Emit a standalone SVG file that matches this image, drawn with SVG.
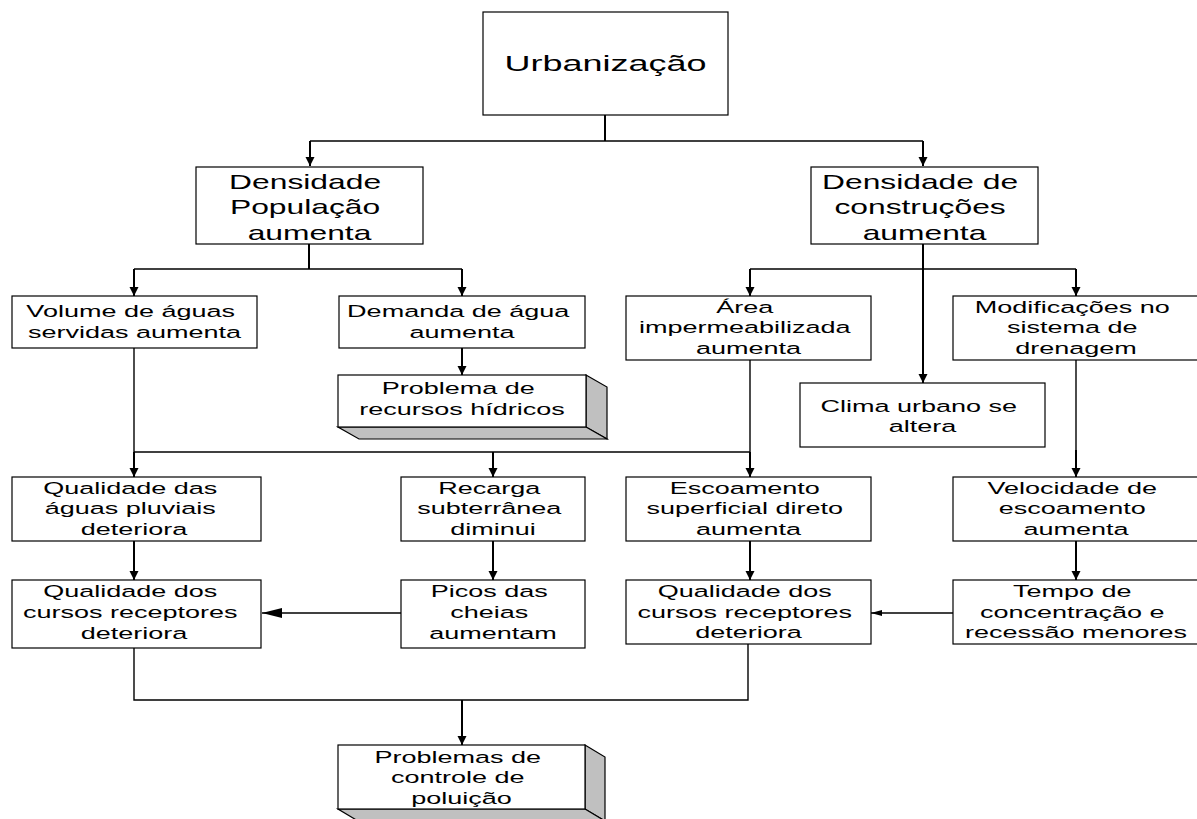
<svg xmlns="http://www.w3.org/2000/svg" width="1197" height="819" viewBox="0 0 1197 819">
  <style>
    .box { fill: #ffffff; stroke: #000000; stroke-width: 1.2; }
    .side { fill: #c0c0c0; stroke: #000000; stroke-width: 1.2; stroke-linejoin: miter; }
    .t { font-family: "Liberation Sans", Arial, sans-serif; font-size: 17px; text-anchor: middle; fill: #000000; }
    .t20 { font-size: 20px; }
    .t22 { font-size: 22.5px; }
    .ln { fill: none; stroke: #000000; stroke-width: 1.4; }
    .vl { fill: none; stroke: #000000; stroke-width: 2; }
  </style>
  <defs>
    <marker id="arr" markerUnits="userSpaceOnUse" markerWidth="10" markerHeight="10" refX="9" refY="4.5" orient="auto">
      <path d="M0,0 L9,4.5 L0,9 z" fill="#000000"/>
    </marker>
    <marker id="arrBig" markerUnits="userSpaceOnUse" markerWidth="22" markerHeight="12" refX="20" refY="5" orient="auto">
      <path d="M0,0 L20,5 L0,10 z" fill="#000000"/>
    </marker>
    <marker id="arrSmall" markerUnits="userSpaceOnUse" markerWidth="12" markerHeight="8" refX="11" refY="3" orient="auto">
      <path d="M0,0 L11,3 L0,6 z" fill="#000000"/>
    </marker>
  </defs>

  <rect x="0" y="0" width="1197" height="819" fill="#ffffff"/>

  <!-- connectors -->
  <g id="connectors">
    <!-- Urbanização to the two density boxes -->
    <path class="vl" d="M605,115 V141"/>
    <path class="ln" d="M310,141 H923"/>
    <path class="vl" d="M310,141 V166" marker-end="url(#arr)"/>
    <path class="vl" d="M923,141 V166" marker-end="url(#arr)"/>

    <!-- population branch -->
    <path class="vl" d="M309,244 V269"/>
    <path class="ln" d="M134,269 H462"/>
    <path class="vl" d="M134,269 V296" marker-end="url(#arr)"/>
    <path class="vl" d="M462,269 V296" marker-end="url(#arr)"/>
    <path class="vl" d="M462,348 V375" marker-end="url(#arr)"/>

    <!-- construction branch -->
    <path class="vl" d="M923,244 V383" marker-end="url(#arr)"/>
    <path class="ln" d="M750,269 H1076"/>
    <path class="vl" d="M750,269 V296" marker-end="url(#arr)"/>
    <path class="vl" d="M1076,269 V296" marker-end="url(#arr)"/>

    <!-- merge line into the third row -->
    <path class="ln" d="M134,348 V452"/>
    <path class="ln" d="M750,360 V452"/>
    <path class="ln" d="M134,452 H750"/>
    <path class="vl" d="M134,452 V477" marker-end="url(#arr)"/>
    <path class="vl" d="M493,452 V477" marker-end="url(#arr)"/>
    <path class="vl" d="M750,452 V477" marker-end="url(#arr)"/>
    <path class="ln" d="M1076,360 V450"/>
    <path class="vl" d="M1076,450 V477" marker-end="url(#arr)"/>

    <!-- third row to fourth row -->
    <path class="vl" d="M134,541 V580" marker-end="url(#arr)"/>
    <path class="vl" d="M493,541 V580" marker-end="url(#arr)"/>
    <path class="vl" d="M750,541 V580" marker-end="url(#arr)"/>
    <path class="vl" d="M1076,541 V580" marker-end="url(#arr)"/>

    <!-- horizontal feeds -->
    <path class="ln" d="M401,613 H262" marker-end="url(#arrBig)"/>
    <path class="ln" d="M953,613 H871" marker-end="url(#arrSmall)"/>

    <!-- collector to pollution control -->
    <path class="ln" d="M134,648 V700 H748 V644"/>
    <path class="vl" d="M462,700 V745" marker-end="url(#arr)"/>
  </g>

  <!-- nodes -->
  <g id="n-urbanizacao">
    <rect class="box" x="483" y="12" width="245" height="103"/>
    <text class="t t22" transform="translate(605.5,0) scale(1.6,1)"><tspan x="0" y="71">Urbanização</tspan></text>
  </g>

  <g id="n-densidade-populacao">
    <rect class="box" x="196" y="167" width="227" height="77"/>
    <text class="t t20" transform="translate(309.5,0) scale(1.59,1)">
      <tspan x="0" y="189">Densidade</tspan>
      <tspan x="0" y="214.5">População</tspan>
      <tspan x="0" y="240">aumenta</tspan>
    </text>
  </g>

  <g id="n-densidade-construcoes">
    <rect class="box" x="811" y="167" width="227" height="77"/>
    <text class="t t20" transform="translate(924.5,0) scale(1.59,1)">
      <tspan x="0" y="189">Densidade de</tspan>
      <tspan x="0" y="214.5">construções</tspan>
      <tspan x="0" y="240">aumenta</tspan>
    </text>
  </g>

  <g id="n-volume">
    <rect class="box" x="12" y="296" width="245" height="52"/>
    <text class="t" transform="translate(134.5,0) scale(1.59,1)">
      <tspan x="0" y="317">Volume de águas</tspan>
      <tspan x="0" y="338">servidas aumenta</tspan>
    </text>
  </g>

  <g id="n-demanda">
    <rect class="box" x="339" y="296" width="246" height="52"/>
    <text class="t" transform="translate(462,0) scale(1.59,1)">
      <tspan x="0" y="317">Demanda de água</tspan>
      <tspan x="0" y="338">aumenta</tspan>
    </text>
  </g>

  <g id="n-recursos-hidricos">
    <polygon class="side" points="586,375 607,387 607,439 586,427"/>
    <polygon class="side" points="338,427 586,427 607,439 359,439"/>
    <rect class="box" x="338" y="375" width="248" height="52"/>
    <text class="t" transform="translate(462,0) scale(1.59,1)">
      <tspan x="0" y="394">Problema de</tspan>
      <tspan x="0" y="415">recursos hídricos</tspan>
    </text>
  </g>

  <g id="n-area">
    <rect class="box" x="626" y="296" width="245" height="64"/>
    <text class="t" transform="translate(748.5,0) scale(1.59,1)">
      <tspan x="0" y="313">Área</tspan>
      <tspan x="0" y="333.5">impermeabilizada</tspan>
      <tspan x="0" y="354">aumenta</tspan>
    </text>
  </g>

  <g id="n-clima">
    <rect class="box" x="800" y="383" width="245" height="64"/>
    <text class="t" transform="translate(922.5,0) scale(1.59,1)">
      <tspan x="0" y="412">Clima urbano se</tspan>
      <tspan x="0" y="432.5">altera</tspan>
    </text>
  </g>

  <g id="n-modificacoes">
    <rect class="box" x="953" y="296" width="246" height="64"/>
    <text class="t" transform="translate(1076,0) scale(1.59,1)">
      <tspan x="0" y="313">Modificações no</tspan>
      <tspan x="0" y="333.5">sistema de</tspan>
      <tspan x="0" y="354">drenagem</tspan>
    </text>
  </g>

  <g id="n-qualidade-pluviais">
    <rect class="box" x="12" y="477" width="249" height="64"/>
    <text class="t" transform="translate(134,0) scale(1.59,1)">
      <tspan x="0" y="494">Qualidade das</tspan>
      <tspan x="0" y="514.5">águas pluviais</tspan>
      <tspan x="0" y="535">deteriora</tspan>
    </text>
  </g>

  <g id="n-recarga">
    <rect class="box" x="401" y="477" width="184" height="64"/>
    <text class="t" transform="translate(493,0) scale(1.59,1)">
      <tspan x="0" y="494">Recarga</tspan>
      <tspan x="0" y="514.5">subterrânea</tspan>
      <tspan x="0" y="535">diminui</tspan>
    </text>
  </g>

  <g id="n-escoamento">
    <rect class="box" x="626" y="477" width="245" height="64"/>
    <text class="t" transform="translate(748.5,0) scale(1.59,1)">
      <tspan x="0" y="494">Escoamento</tspan>
      <tspan x="0" y="514.5">superficial direto</tspan>
      <tspan x="0" y="535">aumenta</tspan>
    </text>
  </g>

  <g id="n-velocidade">
    <rect class="box" x="953" y="477" width="246" height="64"/>
    <text class="t" transform="translate(1076,0) scale(1.59,1)">
      <tspan x="0" y="494">Velocidade de</tspan>
      <tspan x="0" y="514.5">escoamento</tspan>
      <tspan x="0" y="535">aumenta</tspan>
    </text>
  </g>

  <g id="n-qualidade-cursos-1">
    <rect class="box" x="12" y="580" width="249" height="68"/>
    <text class="t" transform="translate(134,0) scale(1.59,1)">
      <tspan x="0" y="597">Qualidade dos</tspan>
      <tspan x="0" y="618">cursos receptores</tspan>
      <tspan x="0" y="639">deteriora</tspan>
    </text>
  </g>

  <g id="n-picos">
    <rect class="box" x="401" y="580" width="184" height="68"/>
    <text class="t" transform="translate(493,0) scale(1.59,1)">
      <tspan x="0" y="597">Picos das</tspan>
      <tspan x="0" y="618">cheias</tspan>
      <tspan x="0" y="639">aumentam</tspan>
    </text>
  </g>

  <g id="n-qualidade-cursos-2">
    <rect class="box" x="626" y="580" width="245" height="64"/>
    <text class="t" transform="translate(748.5,0) scale(1.59,1)">
      <tspan x="0" y="597">Qualidade dos</tspan>
      <tspan x="0" y="618">cursos receptores</tspan>
      <tspan x="0" y="638.5">deteriora</tspan>
    </text>
  </g>

  <g id="n-tempo">
    <rect class="box" x="953" y="580" width="246" height="64"/>
    <text class="t" transform="translate(1076,0) scale(1.59,1)">
      <tspan x="0" y="597">Tempo de</tspan>
      <tspan x="0" y="618">concentração e</tspan>
      <tspan x="0" y="638.5">recessão menores</tspan>
    </text>
  </g>

  <g id="n-poluicao">
    <polygon class="side" points="585,745 605,757 605,821 585,809"/>
    <polygon class="side" points="338,809 585,809 605,821 358,821"/>
    <rect class="box" x="338" y="745" width="247" height="64"/>
    <text class="t" transform="translate(461.5,0) scale(1.59,1)">
      <tspan x="0" y="763">Problemas de</tspan>
      <tspan x="0" y="783.5">controle de</tspan>
      <tspan x="0" y="804">poluição</tspan>
    </text>
  </g>
</svg>
